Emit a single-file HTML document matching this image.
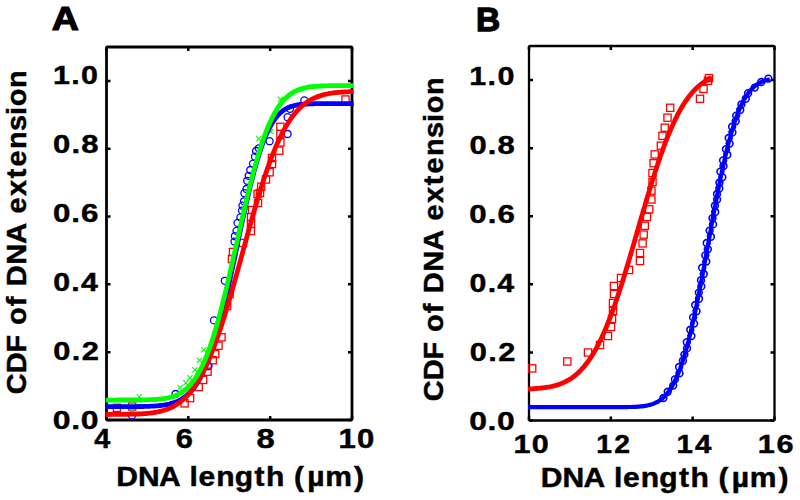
<!DOCTYPE html>
<html><head><meta charset="utf-8"><style>
html,body{margin:0;padding:0;background:#fff;width:800px;height:500px;overflow:hidden}
svg{display:block}
text{font-family:"Liberation Sans",sans-serif;font-weight:bold;font-kerning:none}
</style></head><body>
<svg width="800" height="500" viewBox="0 0 800 500">
<rect width="800" height="500" fill="#fff"/>
<path d="M106.50,420.00v-4M106.50,47.00v4M188.33,420.00v-4M188.33,47.00v4M270.17,420.00v-4M270.17,47.00v4M352.00,420.00v-4M352.00,47.00v4M106.50,420.00h4M352.00,420.00h-4M106.50,352.18h4M352.00,352.18h-4M106.50,284.36h4M352.00,284.36h-4M106.50,216.55h4M352.00,216.55h-4M106.50,148.73h4M352.00,148.73h-4M106.50,80.91h4M352.00,80.91h-4" stroke="#000" stroke-width="2.5" fill="none"/><rect x="106.5" y="47.0" width="245.5" height="373.0" rx="1" fill="none" stroke="#000" stroke-width="2.8" stroke-linejoin="round"/><path d="M529.00,420.50v-4M529.00,46.00v4M610.83,420.50v-4M610.83,46.00v4M692.67,420.50v-4M692.67,46.00v4M774.50,420.50v-4M774.50,46.00v4M529.00,420.50h4M774.50,420.50h-4M529.00,352.41h4M774.50,352.41h-4M529.00,284.32h4M774.50,284.32h-4M529.00,216.23h4M774.50,216.23h-4M529.00,148.14h4M774.50,148.14h-4M529.00,80.05h4M774.50,80.05h-4" stroke="#000" stroke-width="2.5" fill="none"/><rect x="529.0" y="46.0" width="245.5" height="374.5" rx="1" fill="none" stroke="#000" stroke-width="2.3" stroke-linejoin="round"/><circle cx="132.0" cy="415.6" r="3.5" fill="none" stroke="#0000ff" stroke-width="1.3"/><circle cx="172.0" cy="405.0" r="3.5" fill="none" stroke="#0000ff" stroke-width="1.3"/><circle cx="175.5" cy="394.0" r="3.5" fill="none" stroke="#0000ff" stroke-width="1.3"/><circle cx="208.5" cy="366.0" r="3.5" fill="none" stroke="#0000ff" stroke-width="1.3"/><circle cx="214.0" cy="320.4" r="3.5" fill="none" stroke="#0000ff" stroke-width="1.3"/><circle cx="224.8" cy="280.8" r="3.5" fill="none" stroke="#0000ff" stroke-width="1.3"/><circle cx="208.0" cy="366.0" r="3.5" fill="none" stroke="#0000ff" stroke-width="1.3"/><circle cx="258.8" cy="148.3" r="3.5" fill="none" stroke="#0000ff" stroke-width="1.3"/><circle cx="269.6" cy="141.2" r="3.5" fill="none" stroke="#0000ff" stroke-width="1.3"/><circle cx="287.6" cy="134.0" r="3.5" fill="none" stroke="#0000ff" stroke-width="1.3"/><circle cx="287.6" cy="117.2" r="3.5" fill="none" stroke="#0000ff" stroke-width="1.3"/><circle cx="290.0" cy="108.8" r="3.5" fill="none" stroke="#0000ff" stroke-width="1.3"/><circle cx="304.3" cy="100.4" r="3.5" fill="none" stroke="#0000ff" stroke-width="1.3"/><circle cx="256.1" cy="151.0" r="3.5" fill="none" stroke="#0000ff" stroke-width="1.3"/><circle cx="255.0" cy="156.7" r="3.5" fill="none" stroke="#0000ff" stroke-width="1.3"/><circle cx="253.0" cy="163.6" r="3.5" fill="none" stroke="#0000ff" stroke-width="1.3"/><circle cx="250.3" cy="170.0" r="3.5" fill="none" stroke="#0000ff" stroke-width="1.3"/><circle cx="248.7" cy="175.8" r="3.5" fill="none" stroke="#0000ff" stroke-width="1.3"/><circle cx="247.2" cy="180.8" r="3.5" fill="none" stroke="#0000ff" stroke-width="1.3"/><circle cx="246.5" cy="189.0" r="3.5" fill="none" stroke="#0000ff" stroke-width="1.3"/><circle cx="244.4" cy="193.2" r="3.5" fill="none" stroke="#0000ff" stroke-width="1.3"/><circle cx="244.0" cy="201.3" r="3.5" fill="none" stroke="#0000ff" stroke-width="1.3"/><circle cx="242.5" cy="205.7" r="3.5" fill="none" stroke="#0000ff" stroke-width="1.3"/><circle cx="242.0" cy="210.6" r="3.5" fill="none" stroke="#0000ff" stroke-width="1.3"/><circle cx="240.4" cy="217.4" r="3.5" fill="none" stroke="#0000ff" stroke-width="1.3"/><circle cx="237.5" cy="222.9" r="3.5" fill="none" stroke="#0000ff" stroke-width="1.3"/><circle cx="236.5" cy="230.9" r="3.5" fill="none" stroke="#0000ff" stroke-width="1.3"/><circle cx="234.9" cy="236.2" r="3.5" fill="none" stroke="#0000ff" stroke-width="1.3"/><circle cx="234.5" cy="241.6" r="3.5" fill="none" stroke="#0000ff" stroke-width="1.3"/><rect x="113.3" y="404.2" width="7.2" height="7.2" fill="none" stroke="#ff0000" stroke-width="1.3"/><rect x="128.6" y="402.9" width="7.2" height="7.2" fill="none" stroke="#ff0000" stroke-width="1.3"/><rect x="181.0" y="399.8" width="7.2" height="7.2" fill="none" stroke="#ff0000" stroke-width="1.3"/><rect x="186.5" y="394.5" width="7.2" height="7.2" fill="none" stroke="#ff0000" stroke-width="1.3"/><rect x="195.1" y="383.5" width="7.2" height="7.2" fill="none" stroke="#ff0000" stroke-width="1.3"/><rect x="199.5" y="376.3" width="7.2" height="7.2" fill="none" stroke="#ff0000" stroke-width="1.3"/><rect x="203.9" y="368.1" width="7.2" height="7.2" fill="none" stroke="#ff0000" stroke-width="1.3"/><rect x="209.1" y="356.6" width="7.2" height="7.2" fill="none" stroke="#ff0000" stroke-width="1.3"/><rect x="211.6" y="350.5" width="7.2" height="7.2" fill="none" stroke="#ff0000" stroke-width="1.3"/><rect x="214.9" y="342.1" width="7.2" height="7.2" fill="none" stroke="#ff0000" stroke-width="1.3"/><rect x="217.9" y="333.7" width="7.2" height="7.2" fill="none" stroke="#ff0000" stroke-width="1.3"/><rect x="223.6" y="302.4" width="7.2" height="7.2" fill="none" stroke="#ff0000" stroke-width="1.3"/><rect x="226.0" y="290.4" width="7.2" height="7.2" fill="none" stroke="#ff0000" stroke-width="1.3"/><rect x="229.4" y="248.4" width="7.2" height="7.2" fill="none" stroke="#ff0000" stroke-width="1.3"/><rect x="228.4" y="255.4" width="7.2" height="7.2" fill="none" stroke="#ff0000" stroke-width="1.3"/><rect x="239.4" y="239.4" width="7.2" height="7.2" fill="none" stroke="#ff0000" stroke-width="1.3"/><rect x="247.4" y="227.4" width="7.2" height="7.2" fill="none" stroke="#ff0000" stroke-width="1.3"/><rect x="247.4" y="220.4" width="7.2" height="7.2" fill="none" stroke="#ff0000" stroke-width="1.3"/><rect x="247.4" y="213.4" width="7.2" height="7.2" fill="none" stroke="#ff0000" stroke-width="1.3"/><rect x="248.4" y="206.4" width="7.2" height="7.2" fill="none" stroke="#ff0000" stroke-width="1.3"/><rect x="254.4" y="199.4" width="7.2" height="7.2" fill="none" stroke="#ff0000" stroke-width="1.3"/><rect x="256.4" y="189.4" width="7.2" height="7.2" fill="none" stroke="#ff0000" stroke-width="1.3"/><rect x="254.0" y="190.4" width="7.2" height="7.2" fill="none" stroke="#ff0000" stroke-width="1.3"/><rect x="257.6" y="183.1" width="7.2" height="7.2" fill="none" stroke="#ff0000" stroke-width="1.3"/><rect x="262.4" y="175.9" width="7.2" height="7.2" fill="none" stroke="#ff0000" stroke-width="1.3"/><rect x="266.0" y="168.7" width="7.2" height="7.2" fill="none" stroke="#ff0000" stroke-width="1.3"/><rect x="268.4" y="160.4" width="7.2" height="7.2" fill="none" stroke="#ff0000" stroke-width="1.3"/><rect x="268.4" y="154.4" width="7.2" height="7.2" fill="none" stroke="#ff0000" stroke-width="1.3"/><rect x="275.6" y="147.1" width="7.2" height="7.2" fill="none" stroke="#ff0000" stroke-width="1.3"/><rect x="276.8" y="138.8" width="7.2" height="7.2" fill="none" stroke="#ff0000" stroke-width="1.3"/><rect x="276.8" y="130.4" width="7.2" height="7.2" fill="none" stroke="#ff0000" stroke-width="1.3"/><rect x="276.8" y="123.2" width="7.2" height="7.2" fill="none" stroke="#ff0000" stroke-width="1.3"/><rect x="341.9" y="95.9" width="7.2" height="7.2" fill="none" stroke="#ff0000" stroke-width="1.3"/><path d="M129.4,407.6L134.6,412.8M129.4,412.8L134.6,407.6" stroke="#00ff00" stroke-width="1.1"/><path d="M136.6,394.1L141.8,399.3M136.6,399.3L141.8,394.1" stroke="#00ff00" stroke-width="1.1"/><path d="M177.6,385.0L182.8,390.2M177.6,390.2L182.8,385.0" stroke="#00ff00" stroke-width="1.1"/><path d="M183.2,380.1L188.4,385.3M183.2,385.3L188.4,380.1" stroke="#00ff00" stroke-width="1.1"/><path d="M187.3,375.1L192.5,380.3M187.3,380.3L192.5,375.1" stroke="#00ff00" stroke-width="1.1"/><path d="M192.3,367.1L197.5,372.3M192.3,372.3L197.5,367.1" stroke="#00ff00" stroke-width="1.1"/><path d="M196.9,357.8L202.1,363.0M196.9,363.0L202.1,357.8" stroke="#00ff00" stroke-width="1.1"/><path d="M201.2,347.2L206.4,352.4M201.2,352.4L206.4,347.2" stroke="#00ff00" stroke-width="1.1"/><path d="M256.2,136.2L261.4,141.4M256.2,141.4L261.4,136.2" stroke="#00ff00" stroke-width="1.1"/><path d="M268.2,129.0L273.4,134.2M268.2,134.2L273.4,129.0" stroke="#00ff00" stroke-width="1.1"/><path d="M277.8,96.6L283.0,101.8M277.8,101.8L283.0,96.6" stroke="#00ff00" stroke-width="1.1"/><rect x="528.6" y="364.8" width="7.2" height="7.2" fill="none" stroke="#ff0000" stroke-width="1.3"/><rect x="563.7" y="357.9" width="7.2" height="7.2" fill="none" stroke="#ff0000" stroke-width="1.3"/><rect x="584.4" y="348.9" width="7.2" height="7.2" fill="none" stroke="#ff0000" stroke-width="1.3"/><rect x="596.4" y="341.4" width="7.2" height="7.2" fill="none" stroke="#ff0000" stroke-width="1.3"/><rect x="604.4" y="332.4" width="7.2" height="7.2" fill="none" stroke="#ff0000" stroke-width="1.3"/><rect x="607.4" y="323.4" width="7.2" height="7.2" fill="none" stroke="#ff0000" stroke-width="1.3"/><rect x="608.4" y="315.4" width="7.2" height="7.2" fill="none" stroke="#ff0000" stroke-width="1.3"/><rect x="609.4" y="307.4" width="7.2" height="7.2" fill="none" stroke="#ff0000" stroke-width="1.3"/><rect x="609.4" y="299.4" width="7.2" height="7.2" fill="none" stroke="#ff0000" stroke-width="1.3"/><rect x="610.4" y="290.4" width="7.2" height="7.2" fill="none" stroke="#ff0000" stroke-width="1.3"/><rect x="610.4" y="282.4" width="7.2" height="7.2" fill="none" stroke="#ff0000" stroke-width="1.3"/><rect x="617.4" y="274.4" width="7.2" height="7.2" fill="none" stroke="#ff0000" stroke-width="1.3"/><rect x="625.4" y="266.4" width="7.2" height="7.2" fill="none" stroke="#ff0000" stroke-width="1.3"/><rect x="636.4" y="257.4" width="7.2" height="7.2" fill="none" stroke="#ff0000" stroke-width="1.3"/><rect x="636.4" y="249.4" width="7.2" height="7.2" fill="none" stroke="#ff0000" stroke-width="1.3"/><rect x="639.0" y="239.8" width="7.2" height="7.2" fill="none" stroke="#ff0000" stroke-width="1.3"/><rect x="640.1" y="231.0" width="7.2" height="7.2" fill="none" stroke="#ff0000" stroke-width="1.3"/><rect x="641.2" y="222.2" width="7.2" height="7.2" fill="none" stroke="#ff0000" stroke-width="1.3"/><rect x="643.4" y="213.4" width="7.2" height="7.2" fill="none" stroke="#ff0000" stroke-width="1.3"/><rect x="645.6" y="205.7" width="7.2" height="7.2" fill="none" stroke="#ff0000" stroke-width="1.3"/><rect x="647.8" y="195.9" width="7.2" height="7.2" fill="none" stroke="#ff0000" stroke-width="1.3"/><rect x="647.8" y="187.1" width="7.2" height="7.2" fill="none" stroke="#ff0000" stroke-width="1.3"/><rect x="648.9" y="178.4" width="7.2" height="7.2" fill="none" stroke="#ff0000" stroke-width="1.3"/><rect x="648.9" y="169.4" width="7.2" height="7.2" fill="none" stroke="#ff0000" stroke-width="1.3"/><rect x="650.0" y="159.6" width="7.2" height="7.2" fill="none" stroke="#ff0000" stroke-width="1.3"/><rect x="651.1" y="150.8" width="7.2" height="7.2" fill="none" stroke="#ff0000" stroke-width="1.3"/><rect x="657.3" y="142.1" width="7.2" height="7.2" fill="none" stroke="#ff0000" stroke-width="1.3"/><rect x="658.9" y="132.2" width="7.2" height="7.2" fill="none" stroke="#ff0000" stroke-width="1.3"/><rect x="661.2" y="124.1" width="7.2" height="7.2" fill="none" stroke="#ff0000" stroke-width="1.3"/><rect x="663.9" y="114.1" width="7.2" height="7.2" fill="none" stroke="#ff0000" stroke-width="1.3"/><rect x="666.6" y="104.2" width="7.2" height="7.2" fill="none" stroke="#ff0000" stroke-width="1.3"/><rect x="696.4" y="95.2" width="7.2" height="7.2" fill="none" stroke="#ff0000" stroke-width="1.3"/><rect x="699.9" y="85.3" width="7.2" height="7.2" fill="none" stroke="#ff0000" stroke-width="1.3"/><rect x="704.4" y="77.2" width="7.2" height="7.2" fill="none" stroke="#ff0000" stroke-width="1.3"/><rect x="705.4" y="74.5" width="7.2" height="7.2" fill="none" stroke="#ff0000" stroke-width="1.3"/><circle cx="663.4" cy="398.0" r="3.4" fill="none" stroke="#0000ff" stroke-width="1.6"/><circle cx="667.7" cy="391.8" r="3.4" fill="none" stroke="#0000ff" stroke-width="1.6"/><circle cx="673.2" cy="385.6" r="3.4" fill="none" stroke="#0000ff" stroke-width="1.6"/><circle cx="674.9" cy="379.4" r="3.4" fill="none" stroke="#0000ff" stroke-width="1.6"/><circle cx="679.5" cy="373.2" r="3.4" fill="none" stroke="#0000ff" stroke-width="1.6"/><circle cx="679.1" cy="367.0" r="3.4" fill="none" stroke="#0000ff" stroke-width="1.6"/><circle cx="682.9" cy="360.8" r="3.4" fill="none" stroke="#0000ff" stroke-width="1.6"/><circle cx="684.4" cy="354.6" r="3.4" fill="none" stroke="#0000ff" stroke-width="1.6"/><circle cx="687.0" cy="348.4" r="3.4" fill="none" stroke="#0000ff" stroke-width="1.6"/><circle cx="686.8" cy="342.2" r="3.4" fill="none" stroke="#0000ff" stroke-width="1.6"/><circle cx="691.4" cy="336.0" r="3.4" fill="none" stroke="#0000ff" stroke-width="1.6"/><circle cx="690.3" cy="329.8" r="3.4" fill="none" stroke="#0000ff" stroke-width="1.6"/><circle cx="694.1" cy="323.6" r="3.4" fill="none" stroke="#0000ff" stroke-width="1.6"/><circle cx="693.1" cy="317.4" r="3.4" fill="none" stroke="#0000ff" stroke-width="1.6"/><circle cx="696.5" cy="311.2" r="3.4" fill="none" stroke="#0000ff" stroke-width="1.6"/><circle cx="695.2" cy="305.0" r="3.4" fill="none" stroke="#0000ff" stroke-width="1.6"/><circle cx="699.0" cy="298.8" r="3.4" fill="none" stroke="#0000ff" stroke-width="1.6"/><circle cx="698.8" cy="292.6" r="3.4" fill="none" stroke="#0000ff" stroke-width="1.6"/><circle cx="701.3" cy="286.4" r="3.4" fill="none" stroke="#0000ff" stroke-width="1.6"/><circle cx="701.0" cy="280.2" r="3.4" fill="none" stroke="#0000ff" stroke-width="1.6"/><circle cx="703.8" cy="274.0" r="3.4" fill="none" stroke="#0000ff" stroke-width="1.6"/><circle cx="702.2" cy="267.8" r="3.4" fill="none" stroke="#0000ff" stroke-width="1.6"/><circle cx="706.3" cy="261.6" r="3.4" fill="none" stroke="#0000ff" stroke-width="1.6"/><circle cx="705.3" cy="255.4" r="3.4" fill="none" stroke="#0000ff" stroke-width="1.6"/><circle cx="707.8" cy="249.2" r="3.4" fill="none" stroke="#0000ff" stroke-width="1.6"/><circle cx="706.7" cy="243.0" r="3.4" fill="none" stroke="#0000ff" stroke-width="1.6"/><circle cx="710.9" cy="236.8" r="3.4" fill="none" stroke="#0000ff" stroke-width="1.6"/><circle cx="709.6" cy="230.6" r="3.4" fill="none" stroke="#0000ff" stroke-width="1.6"/><circle cx="713.0" cy="224.4" r="3.4" fill="none" stroke="#0000ff" stroke-width="1.6"/><circle cx="712.5" cy="218.2" r="3.4" fill="none" stroke="#0000ff" stroke-width="1.6"/><circle cx="715.2" cy="212.0" r="3.4" fill="none" stroke="#0000ff" stroke-width="1.6"/><circle cx="714.9" cy="205.8" r="3.4" fill="none" stroke="#0000ff" stroke-width="1.6"/><circle cx="717.1" cy="199.6" r="3.4" fill="none" stroke="#0000ff" stroke-width="1.6"/><circle cx="717.0" cy="194.0" r="3.4" fill="none" stroke="#0000ff" stroke-width="1.6"/><circle cx="719.3" cy="188.4" r="3.4" fill="none" stroke="#0000ff" stroke-width="1.6"/><circle cx="719.4" cy="182.8" r="3.4" fill="none" stroke="#0000ff" stroke-width="1.6"/><circle cx="722.3" cy="177.2" r="3.4" fill="none" stroke="#0000ff" stroke-width="1.6"/><circle cx="720.4" cy="171.6" r="3.4" fill="none" stroke="#0000ff" stroke-width="1.6"/><circle cx="723.5" cy="166.0" r="3.4" fill="none" stroke="#0000ff" stroke-width="1.6"/><circle cx="723.1" cy="160.4" r="3.4" fill="none" stroke="#0000ff" stroke-width="1.6"/><circle cx="727.3" cy="154.8" r="3.4" fill="none" stroke="#0000ff" stroke-width="1.6"/><circle cx="726.0" cy="149.2" r="3.4" fill="none" stroke="#0000ff" stroke-width="1.6"/><circle cx="729.6" cy="143.6" r="3.4" fill="none" stroke="#0000ff" stroke-width="1.6"/><circle cx="728.7" cy="138.0" r="3.4" fill="none" stroke="#0000ff" stroke-width="1.6"/><circle cx="732.4" cy="132.4" r="3.4" fill="none" stroke="#0000ff" stroke-width="1.6"/><circle cx="732.1" cy="126.8" r="3.4" fill="none" stroke="#0000ff" stroke-width="1.6"/><circle cx="735.7" cy="121.2" r="3.4" fill="none" stroke="#0000ff" stroke-width="1.6"/><circle cx="736.2" cy="115.6" r="3.4" fill="none" stroke="#0000ff" stroke-width="1.6"/><circle cx="740.2" cy="110.0" r="3.4" fill="none" stroke="#0000ff" stroke-width="1.6"/><circle cx="741.4" cy="104.4" r="3.4" fill="none" stroke="#0000ff" stroke-width="1.6"/><circle cx="745.8" cy="98.8" r="3.4" fill="none" stroke="#0000ff" stroke-width="1.6"/><circle cx="748.1" cy="93.2" r="3.4" fill="none" stroke="#0000ff" stroke-width="1.6"/><circle cx="754.7" cy="87.6" r="3.4" fill="none" stroke="#0000ff" stroke-width="1.6"/><circle cx="761.3" cy="82.0" r="3.4" fill="none" stroke="#0000ff" stroke-width="1.6"/><circle cx="768.4" cy="78.6" r="3.4" fill="none" stroke="#0000ff" stroke-width="1.6"/><path d="M105.7,406.7 L107.3,406.7 L108.8,406.7 L110.4,406.7 L111.9,406.7 L113.5,406.7 L115.1,406.7 L116.6,406.7 L118.2,406.7 L119.7,406.7 L121.3,406.7 L122.9,406.7 L124.4,406.6 L126.0,406.6 L127.5,406.6 L129.1,406.6 L130.6,406.6 L132.2,406.6 L133.8,406.6 L135.3,406.6 L136.9,406.6 L138.4,406.5 L140.0,406.5 L141.6,406.5 L143.1,406.5 L144.7,406.4 L146.2,406.4 L147.8,406.3 L149.4,406.3 L150.9,406.2 L152.5,406.1 L154.0,406.1 L155.6,405.9 L157.2,405.8 L158.7,405.7 L160.3,405.5 L161.8,405.3 L163.4,405.1 L164.9,404.9 L166.5,404.6 L168.1,404.3 L169.6,404.0 L171.2,403.6 L172.7,403.1 L174.3,402.6 L175.9,402.0 L177.4,401.4 L179.0,400.6 L180.5,399.8 L182.1,398.9 L183.7,397.9 L185.2,396.7 L186.8,395.5 L188.3,394.1 L189.9,392.6 L191.5,390.9 L193.0,389.0 L194.6,387.0 L196.1,384.8 L197.7,382.4 L199.2,379.8 L200.8,377.0 L202.4,373.9 L203.9,370.6 L205.5,367.1 L207.0,363.3 L208.6,359.3 L210.2,355.0 L211.7,350.4 L213.3,345.6 L214.8,340.5 L216.4,335.2 L218.0,329.6 L219.5,323.8 L221.1,317.8 L222.6,311.5 L224.2,305.0 L225.8,298.3 L227.3,291.5 L228.9,284.5 L230.4,277.3 L232.0,270.1 L233.5,262.7 L235.1,255.4 L236.7,247.9 L238.2,240.5 L239.8,233.1 L241.3,225.8 L242.9,218.5 L244.5,211.4 L246.0,204.4 L247.6,197.6 L249.1,190.9 L250.7,184.5 L252.3,178.2 L253.8,172.3 L255.4,166.6 L256.9,161.1 L258.5,156.0 L260.1,151.1 L261.6,146.5 L263.2,142.2 L264.7,138.2 L266.3,134.5 L267.8,131.1 L269.4,128.0 L271.0,125.1 L272.5,122.5 L274.1,120.1 L275.6,118.0 L277.2,116.1 L278.8,114.4 L280.3,112.9 L281.9,111.5 L283.4,110.4 L285.0,109.3 L286.6,108.5 L288.1,107.7 L289.7,107.0 L291.2,106.4 L292.8,106.0 L294.4,105.6 L295.9,105.2 L297.5,104.9 L299.0,104.7 L300.6,104.5 L302.1,104.3 L303.7,104.2 L305.3,104.1 L306.8,104.0 L308.4,103.9 L309.9,103.9 L311.5,103.8 L313.1,103.8 L314.6,103.7 L316.2,103.7 L317.7,103.7 L319.3,103.7 L320.9,103.7 L322.4,103.7 L324.0,103.7 L325.5,103.7 L327.1,103.7 L328.7,103.7 L330.2,103.7 L331.8,103.7 L333.3,103.7 L334.9,103.7 L336.4,103.7 L338.0,103.7 L339.6,103.7 L341.1,103.7 L342.7,103.7 L344.2,103.7 L345.8,103.7 L347.4,103.7 L348.9,103.7 L350.5,103.7 L352.0,103.7 L353.6,103.7" stroke="#0000ff" stroke-width="4.8" fill="none" stroke-linejoin="round" stroke-linecap="butt"/><path d="M105.7,414.5 L107.3,414.5 L108.8,414.5 L110.4,414.4 L111.9,414.4 L113.5,414.4 L115.1,414.4 L116.6,414.4 L118.2,414.4 L119.7,414.4 L121.3,414.4 L122.9,414.4 L124.4,414.3 L126.0,414.3 L127.5,414.3 L129.1,414.3 L130.6,414.2 L132.2,414.2 L133.8,414.1 L135.3,414.1 L136.9,414.0 L138.4,414.0 L140.0,413.9 L141.6,413.8 L143.1,413.7 L144.7,413.6 L146.2,413.5 L147.8,413.3 L149.4,413.2 L150.9,413.0 L152.5,412.8 L154.0,412.5 L155.6,412.3 L157.2,412.0 L158.7,411.7 L160.3,411.3 L161.8,410.9 L163.4,410.5 L164.9,410.0 L166.5,409.5 L168.1,408.9 L169.6,408.2 L171.2,407.5 L172.7,406.8 L174.3,405.9 L175.9,405.0 L177.4,404.0 L179.0,402.9 L180.5,401.8 L182.1,400.5 L183.7,399.1 L185.2,397.7 L186.8,396.1 L188.3,394.4 L189.9,392.6 L191.5,390.7 L193.0,388.6 L194.6,386.4 L196.1,384.1 L197.7,381.6 L199.2,379.0 L200.8,376.2 L202.4,373.3 L203.9,370.3 L205.5,367.1 L207.0,363.7 L208.6,360.2 L210.2,356.5 L211.7,352.7 L213.3,348.7 L214.8,344.6 L216.4,340.3 L218.0,335.9 L219.5,331.4 L221.1,326.7 L222.6,321.9 L224.2,317.0 L225.8,311.9 L227.3,306.8 L228.9,301.5 L230.4,296.2 L232.0,290.8 L233.5,285.3 L235.1,279.7 L236.7,274.1 L238.2,268.5 L239.8,262.8 L241.3,257.1 L242.9,251.4 L244.5,245.7 L246.0,240.0 L247.6,234.3 L249.1,228.7 L250.7,223.1 L252.3,217.6 L253.8,212.1 L255.4,206.8 L256.9,201.5 L258.5,196.3 L260.1,191.2 L261.6,186.2 L263.2,181.3 L264.7,176.6 L266.3,172.0 L267.8,167.5 L269.4,163.2 L271.0,159.0 L272.5,155.0 L274.1,151.1 L275.6,147.3 L277.2,143.7 L278.8,140.3 L280.3,137.0 L281.9,133.9 L283.4,130.9 L285.0,128.1 L286.6,125.4 L288.1,122.9 L289.7,120.5 L291.2,118.2 L292.8,116.1 L294.4,114.1 L295.9,112.2 L297.5,110.5 L299.0,108.9 L300.6,107.3 L302.1,105.9 L303.7,104.6 L305.3,103.4 L306.8,102.3 L308.4,101.3 L309.9,100.3 L311.5,99.4 L313.1,98.6 L314.6,97.9 L316.2,97.2 L317.7,96.6 L319.3,96.1 L320.9,95.6 L322.4,95.1 L324.0,94.7 L325.5,94.3 L327.1,94.0 L328.7,93.7 L330.2,93.4 L331.8,93.2 L333.3,92.9 L334.9,92.7 L336.4,92.6 L338.0,92.4 L339.6,92.3 L341.1,92.2 L342.7,92.1 L344.2,92.0 L345.8,91.9 L347.4,91.8 L348.9,91.7 L350.5,91.7 L352.0,91.6 L353.6,91.6" stroke="#ff0000" stroke-width="4.8" fill="none" stroke-linejoin="round" stroke-linecap="butt"/><path d="M105.7,400.1 L107.3,400.1 L108.8,400.1 L110.4,400.1 L111.9,400.1 L113.5,400.1 L115.1,400.1 L116.6,400.1 L118.2,400.0 L119.7,400.0 L121.3,400.0 L122.9,400.0 L124.4,400.0 L126.0,400.0 L127.5,400.0 L129.1,400.0 L130.6,400.0 L132.2,400.0 L133.8,400.0 L135.3,400.0 L136.9,400.0 L138.4,400.0 L140.0,400.0 L141.6,400.0 L143.1,399.9 L144.7,399.9 L146.2,399.9 L147.8,399.8 L149.4,399.8 L150.9,399.7 L152.5,399.7 L154.0,399.6 L155.6,399.5 L157.2,399.4 L158.7,399.2 L160.3,399.1 L161.8,398.9 L163.4,398.7 L164.9,398.5 L166.5,398.2 L168.1,397.9 L169.6,397.5 L171.2,397.1 L172.7,396.6 L174.3,396.1 L175.9,395.4 L177.4,394.8 L179.0,394.0 L180.5,393.1 L182.1,392.1 L183.7,391.0 L185.2,389.8 L186.8,388.5 L188.3,387.0 L189.9,385.3 L191.5,383.5 L193.0,381.6 L194.6,379.4 L196.1,377.1 L197.7,374.6 L199.2,371.8 L200.8,368.9 L202.4,365.7 L203.9,362.3 L205.5,358.7 L207.0,354.8 L208.6,350.7 L210.2,346.4 L211.7,341.8 L213.3,337.0 L214.8,332.0 L216.4,326.7 L218.0,321.2 L219.5,315.5 L221.1,309.7 L222.6,303.6 L224.2,297.3 L225.8,290.9 L227.3,284.4 L228.9,277.7 L230.4,270.9 L232.0,264.1 L233.5,257.1 L235.1,250.2 L236.7,243.2 L238.2,236.2 L239.8,229.2 L241.3,222.2 L242.9,215.4 L244.5,208.6 L246.0,201.9 L247.6,195.3 L249.1,188.9 L250.7,182.7 L252.3,176.6 L253.8,170.7 L255.4,164.9 L256.9,159.4 L258.5,154.2 L260.1,149.1 L261.6,144.3 L263.2,139.7 L264.7,135.3 L266.3,131.2 L267.8,127.3 L269.4,123.7 L271.0,120.3 L272.5,117.1 L274.1,114.1 L275.6,111.3 L277.2,108.8 L278.8,106.4 L280.3,104.2 L281.9,102.3 L283.4,100.4 L285.0,98.8 L286.6,97.3 L288.1,95.9 L289.7,94.7 L291.2,93.6 L292.8,92.6 L294.4,91.7 L295.9,90.9 L297.5,90.2 L299.0,89.6 L300.6,89.1 L302.1,88.6 L303.7,88.2 L305.3,87.8 L306.8,87.5 L308.4,87.2 L309.9,86.9 L311.5,86.7 L313.1,86.6 L314.6,86.4 L316.2,86.3 L317.7,86.2 L319.3,86.1 L320.9,86.0 L322.4,85.9 L324.0,85.8 L325.5,85.8 L327.1,85.8 L328.7,85.7 L330.2,85.7 L331.8,85.7 L333.3,85.7 L334.9,85.6 L336.4,85.6 L338.0,85.6 L339.6,85.6 L341.1,85.6 L342.7,85.6 L344.2,85.6 L345.8,85.6 L347.4,85.6 L348.9,85.6 L350.5,85.6 L352.0,85.6 L353.6,85.6" stroke="#00ff00" stroke-width="4.8" fill="none" stroke-linejoin="round" stroke-linecap="butt"/><path d="M528.0,389.0 L529.2,388.9 L530.3,388.9 L531.5,388.8 L532.6,388.8 L533.8,388.7 L534.9,388.6 L536.1,388.5 L537.2,388.4 L538.4,388.3 L539.5,388.2 L540.7,388.1 L541.8,388.0 L543.0,387.9 L544.2,387.7 L545.3,387.5 L546.5,387.4 L547.6,387.2 L548.8,387.0 L549.9,386.8 L551.1,386.5 L552.2,386.3 L553.4,386.0 L554.5,385.7 L555.7,385.4 L556.9,385.1 L558.0,384.7 L559.2,384.3 L560.3,383.9 L561.5,383.4 L562.6,383.0 L563.8,382.5 L564.9,381.9 L566.1,381.3 L567.2,380.7 L568.4,380.1 L569.5,379.4 L570.7,378.7 L571.9,377.9 L573.0,377.1 L574.2,376.2 L575.3,375.3 L576.5,374.3 L577.6,373.3 L578.8,372.3 L579.9,371.1 L581.1,369.9 L582.2,368.7 L583.4,367.4 L584.6,366.0 L585.7,364.6 L586.9,363.1 L588.0,361.6 L589.2,359.9 L590.3,358.2 L591.5,356.5 L592.6,354.6 L593.8,352.7 L594.9,350.7 L596.1,348.7 L597.2,346.5 L598.4,344.3 L599.6,342.0 L600.7,339.7 L601.9,337.2 L603.0,334.7 L604.2,332.1 L605.3,329.4 L606.5,326.7 L607.6,323.9 L608.8,321.0 L609.9,318.0 L611.1,315.0 L612.2,311.9 L613.4,308.7 L614.6,305.5 L615.7,302.2 L616.9,298.8 L618.0,295.4 L619.2,291.9 L620.3,288.3 L621.5,284.7 L622.6,281.1 L623.8,277.4 L624.9,273.6 L626.1,269.8 L627.3,266.0 L628.4,262.2 L629.6,258.3 L630.7,254.3 L631.9,250.4 L633.0,246.4 L634.2,242.5 L635.3,238.5 L636.5,234.5 L637.6,230.5 L638.8,226.5 L639.9,222.5 L641.1,218.5 L642.3,214.5 L643.4,210.5 L644.6,206.6 L645.7,202.7 L646.9,198.8 L648.0,194.9 L649.2,191.1 L650.3,187.3 L651.5,183.5 L652.6,179.8 L653.8,176.2 L654.9,172.6 L656.1,169.0 L657.3,165.5 L658.4,162.1 L659.6,158.7 L660.7,155.3 L661.9,152.1 L663.0,148.9 L664.2,145.8 L665.3,142.7 L666.5,139.7 L667.6,136.8 L668.8,134.0 L670.0,131.2 L671.1,128.6 L672.3,125.9 L673.4,123.4 L674.6,121.0 L675.7,118.6 L676.9,116.3 L678.0,114.0 L679.2,111.9 L680.3,109.8 L681.5,107.8 L682.6,105.9 L683.8,104.0 L685.0,102.2 L686.1,100.5 L687.3,98.9 L688.4,97.3 L689.6,95.8 L690.7,94.4 L691.9,93.0 L693.0,91.7 L694.2,90.4 L695.3,89.2 L696.5,88.1 L697.7,87.0 L698.8,86.0 L700.0,85.0 L701.1,84.1 L702.3,83.2 L703.4,82.4 L704.6,81.6 L705.7,80.9 L706.9,80.2 L708.0,79.5 L709.2,78.9 L710.3,78.3 L711.5,77.7" stroke="#ff0000" stroke-width="4.8" fill="none" stroke-linejoin="round" stroke-linecap="butt"/><path d="M528.0,407.2 L529.5,407.2 L531.0,407.2 L532.6,407.2 L534.1,407.2 L535.6,407.2 L537.1,407.2 L538.6,407.2 L540.2,407.2 L541.7,407.2 L543.2,407.2 L544.7,407.2 L546.2,407.2 L547.8,407.2 L549.3,407.2 L550.8,407.2 L552.3,407.2 L553.9,407.2 L555.4,407.2 L556.9,407.2 L558.4,407.2 L559.9,407.2 L561.5,407.2 L563.0,407.2 L564.5,407.2 L566.0,407.2 L567.5,407.2 L569.1,407.2 L570.6,407.2 L572.1,407.2 L573.6,407.2 L575.1,407.2 L576.7,407.2 L578.2,407.2 L579.7,407.2 L581.2,407.2 L582.7,407.2 L584.3,407.2 L585.8,407.2 L587.3,407.2 L588.8,407.2 L590.4,407.2 L591.9,407.2 L593.4,407.2 L594.9,407.2 L596.4,407.2 L598.0,407.2 L599.5,407.2 L601.0,407.2 L602.5,407.2 L604.0,407.2 L605.6,407.2 L607.1,407.2 L608.6,407.2 L610.1,407.2 L611.6,407.1 L613.2,407.1 L614.7,407.1 L616.2,407.1 L617.7,407.1 L619.2,407.1 L620.8,407.1 L622.3,407.1 L623.8,407.1 L625.3,407.1 L626.8,407.1 L628.4,407.0 L629.9,407.0 L631.4,407.0 L632.9,406.9 L634.5,406.8 L636.0,406.8 L637.5,406.7 L639.0,406.6 L640.5,406.4 L642.1,406.3 L643.6,406.1 L645.1,405.9 L646.6,405.6 L648.1,405.3 L649.7,404.9 L651.2,404.5 L652.7,404.0 L654.2,403.4 L655.7,402.7 L657.3,402.0 L658.8,401.1 L660.3,400.1 L661.8,398.9 L663.3,397.6 L664.9,396.1 L666.4,394.4 L667.9,392.6 L669.4,390.5 L671.0,388.2 L672.5,385.6 L674.0,382.8 L675.5,379.7 L677.0,376.4 L678.6,372.7 L680.1,368.7 L681.6,364.4 L683.1,359.8 L684.6,354.9 L686.2,349.6 L687.7,344.0 L689.2,338.1 L690.7,331.9 L692.2,325.4 L693.8,318.6 L695.3,311.5 L696.8,304.2 L698.3,296.6 L699.8,288.8 L701.4,280.9 L702.9,272.8 L704.4,264.6 L705.9,256.2 L707.4,247.9 L709.0,239.5 L710.5,231.1 L712.0,222.7 L713.5,214.5 L715.1,206.3 L716.6,198.3 L718.1,190.5 L719.6,182.9 L721.1,175.4 L722.7,168.3 L724.2,161.4 L725.7,154.8 L727.2,148.5 L728.7,142.5 L730.3,136.8 L731.8,131.5 L733.3,126.5 L734.8,121.7 L736.3,117.4 L737.9,113.3 L739.4,109.5 L740.9,106.1 L742.4,102.9 L743.9,100.0 L745.5,97.4 L747.0,95.0 L748.5,92.9 L750.0,91.0 L751.6,89.2 L753.1,87.7 L754.6,86.3 L756.1,85.1 L757.6,84.1 L759.2,83.2 L760.7,82.3 L762.2,81.6 L763.7,81.0 L765.2,80.5 L766.8,80.1 L768.3,79.7 L769.8,79.3" stroke="#0000ff" stroke-width="4.2" fill="none" stroke-linejoin="round" stroke-linecap="butt"/>
<text transform="scale(1.1148,1)" x="46.34" y="30.35" font-size="33.72" fill="#000" stroke="#000" stroke-width="1.17">A</text>
<text transform="scale(0.9845,1)" x="483.47" y="30.55" font-size="34.01" fill="#000" stroke="#000" stroke-width="1.32">B</text>
<text transform="scale(1.1685,1)" x="45.31 60.97 69.41" y="84.15" font-size="26.02" fill="#000" stroke="#000" stroke-width="0.43">1.0</text>
<text transform="scale(1.1938,1)" x="44.45 59.88 68.05" y="153.35" font-size="26.02" fill="#000" stroke="#000" stroke-width="0.42">0.8</text>
<text transform="scale(1.1791,1)" x="44.89 60.50 68.78" y="222.35" font-size="26.60" fill="#000" stroke="#000" stroke-width="0.42">0.6</text>
<text transform="scale(1.1669,1)" x="45.57 61.16 69.37" y="291.15" font-size="26.02" fill="#000" stroke="#000" stroke-width="0.43">0.4</text>
<text transform="scale(1.1859,1)" x="44.89 60.59 69.02" y="360.15" font-size="26.02" fill="#000" stroke="#000" stroke-width="0.42">0.2</text>
<text transform="scale(1.2281,1)" x="42.95 57.96 65.74" y="428.95" font-size="26.02" fill="#000" stroke="#000" stroke-width="0.41">0.0</text>
<text transform="scale(1.1714,1)" x="400.51 416.16 424.61" y="85.35" font-size="26.02" fill="#000" stroke="#000" stroke-width="0.43">1.0</text>
<text transform="scale(1.1910,1)" x="394.17 409.61 417.78" y="154.23" font-size="26.02" fill="#000" stroke="#000" stroke-width="0.42">0.8</text>
<text transform="scale(1.2026,1)" x="390.26 405.52 413.62" y="223.11" font-size="26.02" fill="#000" stroke="#000" stroke-width="0.42">0.6</text>
<text transform="scale(1.1642,1)" x="403.36 418.96 427.16" y="291.99" font-size="26.02" fill="#000" stroke="#000" stroke-width="0.43">0.4</text>
<text transform="scale(1.1831,1)" x="396.97 412.66 421.09" y="360.87" font-size="26.02" fill="#000" stroke="#000" stroke-width="0.42">0.2</text>
<text transform="scale(1.2252,1)" x="382.92 397.93 405.71" y="429.75" font-size="26.02" fill="#000" stroke="#000" stroke-width="0.41">0.0</text>
<text transform="scale(1.0727,1)" x="87.83" y="447.55" font-size="26.89" fill="#000" stroke="#000" stroke-width="0.47">4</text>
<text transform="scale(1.1463,1)" x="153.38" y="447.55" font-size="26.89" fill="#000" stroke="#000" stroke-width="0.44">6</text>
<text transform="scale(1.2204,1)" x="210.26" y="447.55" font-size="26.89" fill="#000" stroke="#000" stroke-width="0.41">8</text>
<text transform="scale(1.1569,1)" x="292.58 308.68" y="447.55" font-size="26.89" fill="#000" stroke="#000" stroke-width="0.43">10</text>
<text transform="scale(1.1783,1)" x="435.80 451.31" y="452.75" font-size="25.87" fill="#000" stroke="#000" stroke-width="0.42">10</text>
<text transform="scale(1.0911,1)" x="546.39 562.99" y="452.75" font-size="25.87" fill="#000" stroke="#000" stroke-width="0.46">12</text>
<text transform="scale(1.1405,1)" x="593.24 609.46" y="452.75" font-size="25.87" fill="#000" stroke="#000" stroke-width="0.44">14</text>
<text transform="scale(1.1855,1)" x="639.12 655.09" y="452.75" font-size="25.87" fill="#000" stroke="#000" stroke-width="0.42">16</text>
<text transform="scale(1.1174,1)" x="104.06 123.48 142.39 161.16 169.62 177.71 193.43 210.05 227.78 238.08 254.68 263.14 275.00 291.09 316.74" y="486.25" font-size="26.89" fill="#000" stroke="#000" stroke-width="0.45">DNA length (µm)</text>
<text transform="scale(1.1174,1)" x="483.97 503.40 522.30 541.07 549.53 557.63 573.34 589.96 607.69 617.99 634.59 643.05 654.92 671.00 696.65" y="487.25" font-size="26.89" fill="#000" stroke="#000" stroke-width="0.45">DNA length (µm)</text>
<text transform="translate(26.35,391.60) rotate(-90) scale(1.0757,1)" x="-2.38 17.08 36.46 53.27 61.82 79.24 88.91 97.85 117.92 137.46 156.53 165.58 181.76 198.24 209.25 225.51 242.21 257.20 265.19 282.17" y="0" font-size="26.89" stroke="#000" stroke-width="0.46">CDF of DNA extension</text>
<text transform="translate(443.05,398.60) rotate(-90) scale(1.0474,1)" x="-2.44 17.54 37.45 54.71 63.49 81.38 91.31 100.49 121.10 141.17 160.76 170.05 186.67 203.60 214.90 231.61 248.75 264.15 272.36 289.79" y="0" font-size="27.62" stroke="#000" stroke-width="0.48">CDF of DNA extension</text>
</svg>
</body></html>
